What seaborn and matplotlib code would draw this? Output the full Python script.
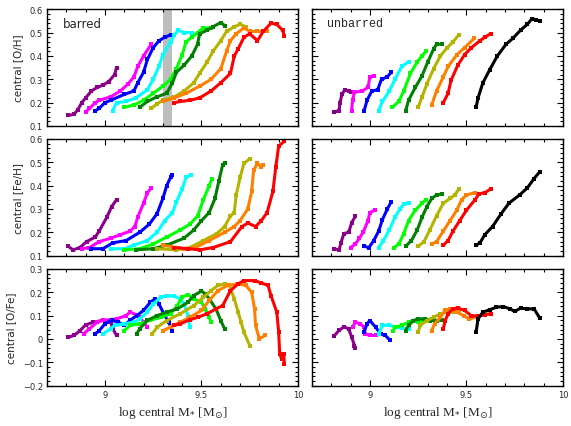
import numpy as np
import pandas as pd
import matplotlib
matplotlib.use("Agg")
import matplotlib.pyplot as plt
import seaborn as sns
from matplotlib.ticker import MultipleLocator, FuncFormatter

# =========================
# DATA
# =========================
colors_bar = ["#8b008b", "#ff00ff", "#0000ff", "#00ffff", "#00ff00",
              "#008000", "#b4b400", "#ff8000", "#ff0000"]
colors_unbar = colors_bar + ["#000000"]

# barred, central [O/H]
bar_oh_x = [
    [8.81, 8.84, 8.86, 8.88, 8.90, 8.93, 8.96, 8.99, 9.02, 9.05, 9.06],
    [8.90, 8.92, 8.95, 8.97, 9.03, 9.08, 9.12, 9.15, 9.17, 9.20, 9.24],
    [8.95, 8.97, 9.00, 9.03, 9.10, 9.15, 9.17, 9.20, 9.22, 9.25, 9.28, 9.31, 9.34],
    [9.04, 9.06, 9.11, 9.16, 9.22, 9.25, 9.28, 9.30, 9.34, 9.36, 9.38, 9.41, 9.45],
    [9.10, 9.15, 9.20, 9.25, 9.30, 9.34, 9.37, 9.40, 9.42, 9.45, 9.48, 9.51, 9.55],
    [9.18, 9.22, 9.27, 9.32, 9.35, 9.37, 9.41, 9.45, 9.48, 9.49, 9.53, 9.56, 9.60, 9.62],
    [9.24, 9.27, 9.30, 9.36, 9.41, 9.46, 9.49, 9.53, 9.56, 9.60, 9.63, 9.67, 9.70, 9.73],
    [9.30, 9.36, 9.42, 9.49, 9.55, 9.60, 9.63, 9.65, 9.68, 9.72, 9.75, 9.79, 9.84],
    [9.36, 9.39, 9.44, 9.49, 9.55, 9.60, 9.65, 9.67, 9.69, 9.72, 9.75, 9.79, 9.82,
     9.86, 9.89, 9.92, 9.93],
]
bar_oh_y = [
    [0.145, 0.15, 0.17, 0.20, 0.22, 0.25, 0.265, 0.275, 0.29, 0.32, 0.35],
    [0.16, 0.175, 0.20, 0.21, 0.225, 0.25, 0.28, 0.31, 0.355, 0.40, 0.45],
    [0.165, 0.175, 0.20, 0.21, 0.235, 0.25, 0.285, 0.33, 0.385, 0.435, 0.465, 0.48, 0.49],
    [0.165, 0.20, 0.205, 0.22, 0.255, 0.30, 0.355, 0.405, 0.46, 0.49, 0.51, 0.50, 0.50],
    [0.18, 0.19, 0.21, 0.24, 0.27, 0.30, 0.345, 0.405, 0.46, 0.48, 0.50, 0.52, 0.52],
    [0.18, 0.205, 0.225, 0.24, 0.285, 0.33, 0.36, 0.40, 0.45, 0.495, 0.51, 0.525, 0.543, 0.53],
    [0.175, 0.195, 0.21, 0.225, 0.25, 0.285, 0.325, 0.375, 0.42, 0.465, 0.505, 0.525, 0.535, 0.525],
    [0.205, 0.22, 0.24, 0.27, 0.30, 0.345, 0.42, 0.465, 0.495, 0.52, 0.505, 0.505, 0.505],
    [0.20, 0.205, 0.21, 0.22, 0.25, 0.285, 0.325, 0.40, 0.43, 0.48, 0.495, 0.465, 0.505,
     0.54, 0.535, 0.51, 0.485],
]

# unbarred, central [O/H]
unbar_oh_x = [
    [8.815, 8.84, 8.845, 8.855, 8.87, 8.89, 8.90],
    [8.905, 8.91, 8.92, 8.96, 8.99, 9.00, 9.02],
    [8.97, 8.985, 9.01, 9.04, 9.06, 9.09, 9.11],
    [9.045, 9.065, 9.10, 9.13, 9.165, 9.20],
    [9.115, 9.15, 9.175, 9.21, 9.245, 9.27, 9.29],
    [9.185, 9.20, 9.235, 9.27, 9.30, 9.33, 9.345, 9.375],
    [9.25, 9.27, 9.295, 9.33, 9.365, 9.40, 9.43, 9.46],
    [9.32, 9.345, 9.38, 9.405, 9.45, 9.49, 9.54],
    [9.38, 9.405, 9.42, 9.455, 9.49, 9.525, 9.57, 9.595, 9.625],
    [9.55, 9.56, 9.585, 9.62, 9.66, 9.705, 9.74, 9.78, 9.815, 9.84, 9.86, 9.88],
]
unbar_oh_y = [
    [0.16, 0.165, 0.20, 0.235, 0.255, 0.25, 0.245],
    [0.165, 0.21, 0.245, 0.25, 0.265, 0.31, 0.315],
    [0.165, 0.21, 0.25, 0.255, 0.30, 0.31, 0.33],
    [0.165, 0.205, 0.25, 0.30, 0.355, 0.375],
    [0.18, 0.205, 0.25, 0.325, 0.375, 0.40, 0.42],
    [0.165, 0.21, 0.265, 0.315, 0.375, 0.43, 0.45, 0.45],
    [0.18, 0.225, 0.28, 0.345, 0.40, 0.435, 0.46, 0.49],
    [0.19, 0.25, 0.31, 0.355, 0.405, 0.435, 0.475],
    [0.20, 0.24, 0.295, 0.36, 0.405, 0.435, 0.465, 0.48, 0.495],
    [0.18, 0.22, 0.285, 0.34, 0.40, 0.45, 0.475, 0.51, 0.535, 0.56, 0.555, 0.55],
]

# barred, central [Fe/H]
bar_feh_x = [
    [8.81, 8.835, 8.87, 8.905, 8.95, 8.97, 9.01, 9.035, 9.06],
    [8.88, 8.92, 8.97, 9.03, 9.08, 9.13, 9.155, 9.17, 9.20, 9.22, 9.24],
    [8.93, 8.99, 9.04, 9.11, 9.18, 9.23, 9.27, 9.30, 9.32, 9.34, 9.35],
    [9.03, 9.10, 9.15, 9.22, 9.27, 9.31, 9.35, 9.37, 9.40, 9.42, 9.445],
    [9.10, 9.18, 9.25, 9.32, 9.39, 9.44, 9.48, 9.51, 9.54, 9.555],
    [9.16, 9.25, 9.32, 9.41, 9.46, 9.50, 9.54, 9.57, 9.59, 9.61, 9.62],
    [9.27, 9.37, 9.44, 9.51, 9.58, 9.62, 9.65, 9.67, 9.68, 9.70, 9.72, 9.75],
    [9.30, 9.41, 9.47, 9.54, 9.62, 9.67, 9.70, 9.74, 9.76, 9.77, 9.79, 9.81, 9.82],
    [9.36, 9.43, 9.49, 9.56, 9.65, 9.71, 9.74, 9.78, 9.81, 9.84, 9.87, 9.885, 9.90, 9.93],
]
bar_feh_y = [
    [0.14, 0.125, 0.135, 0.16, 0.18, 0.205, 0.265, 0.31, 0.34],
    [0.13, 0.135, 0.16, 0.175, 0.19, 0.205, 0.225, 0.265, 0.325, 0.37, 0.39],
    [0.13, 0.13, 0.155, 0.165, 0.20, 0.235, 0.28, 0.345, 0.40, 0.435, 0.445],
    [0.13, 0.13, 0.145, 0.165, 0.20, 0.25, 0.285, 0.33, 0.385, 0.435, 0.445],
    [0.125, 0.13, 0.15, 0.18, 0.21, 0.235, 0.27, 0.34, 0.40, 0.43],
    [0.125, 0.13, 0.145, 0.175, 0.21, 0.25, 0.285, 0.345, 0.42, 0.49, 0.495],
    [0.13, 0.125, 0.135, 0.165, 0.195, 0.225, 0.27, 0.285, 0.36, 0.435, 0.495, 0.515],
    [0.145, 0.13, 0.135, 0.165, 0.20, 0.225, 0.25, 0.30, 0.375, 0.465, 0.495, 0.48, 0.49],
    [0.135, 0.13, 0.125, 0.135, 0.16, 0.225, 0.24, 0.225, 0.25, 0.285, 0.375, 0.48, 0.57, 0.59],
]

# unbarred, central [Fe/H]
unbar_feh_x = [
    [8.815, 8.84, 8.85, 8.865, 8.89, 8.905, 8.925],
    [8.90, 8.925, 8.945, 8.965, 8.99, 9.00, 9.025],
    [8.97, 8.995, 9.02, 9.045, 9.065, 9.09, 9.11],
    [9.045, 9.07, 9.10, 9.13, 9.155, 9.175, 9.20],
    [9.125, 9.15, 9.175, 9.20, 9.235, 9.27, 9.29],
    [9.185, 9.215, 9.245, 9.27, 9.295, 9.32, 9.345, 9.375],
    [9.25, 9.28, 9.31, 9.345, 9.38, 9.415, 9.44, 9.46],
    [9.32, 9.345, 9.38, 9.415, 9.45, 9.475, 9.50, 9.545],
    [9.38, 9.405, 9.43, 9.465, 9.50, 9.545, 9.565, 9.595, 9.625],
    [9.55, 9.57, 9.595, 9.635, 9.68, 9.72, 9.775, 9.815, 9.85, 9.88],
]
unbar_feh_y = [
    [0.13, 0.125, 0.155, 0.195, 0.20, 0.24, 0.27],
    [0.135, 0.15, 0.175, 0.20, 0.25, 0.285, 0.295],
    [0.14, 0.135, 0.165, 0.205, 0.255, 0.30, 0.33],
    [0.135, 0.165, 0.21, 0.265, 0.30, 0.32, 0.325],
    [0.135, 0.15, 0.195, 0.25, 0.295, 0.325, 0.34],
    [0.14, 0.165, 0.21, 0.265, 0.31, 0.345, 0.36, 0.365],
    [0.14, 0.16, 0.21, 0.27, 0.325, 0.345, 0.36, 0.385],
    [0.15, 0.16, 0.205, 0.25, 0.295, 0.34, 0.36, 0.37],
    [0.145, 0.165, 0.205, 0.25, 0.295, 0.34, 0.365, 0.37, 0.385],
    [0.145, 0.155, 0.19, 0.225, 0.28, 0.325, 0.36, 0.39, 0.43, 0.46],
]

# barred, central [O/Fe]
bar_ofe_x = [
    [8.81, 8.84, 8.87, 8.90, 8.94, 8.99, 9.03, 9.04, 9.06],
    [8.89, 8.92, 8.96, 8.99, 9.06, 9.11, 9.13, 9.165, 9.18, 9.20, 9.22],
    [8.95, 8.97, 9.00, 9.035, 9.07, 9.10, 9.13, 9.165, 9.20, 9.235, 9.26, 9.28, 9.305, 9.33, 9.35],
    [8.99, 9.03, 9.05, 9.10, 9.15, 9.18, 9.22, 9.25, 9.29, 9.32, 9.36, 9.39, 9.41, 9.43, 9.44],
    [9.10, 9.13, 9.18, 9.235, 9.29, 9.34, 9.375, 9.40, 9.43, 9.46, 9.50, 9.52, 9.54, 9.55],
    [9.165, 9.18, 9.22, 9.27, 9.32, 9.375, 9.43, 9.46, 9.50, 9.52, 9.54, 9.575, 9.60, 9.62],
    [9.245, 9.27, 9.32, 9.39, 9.46, 9.51, 9.55, 9.585, 9.62, 9.645, 9.67, 9.69, 9.705, 9.72, 9.75],
    [9.30, 9.34, 9.39, 9.44, 9.50, 9.54, 9.585, 9.635, 9.69, 9.73, 9.76, 9.775, 9.78, 9.80, 9.83],
    [9.36, 9.39, 9.44, 9.48, 9.53, 9.575, 9.61, 9.65, 9.69, 9.72, 9.775, 9.81, 9.845, 9.86,
     9.89, 9.90, 9.905, 9.915, 9.925, 9.93],
]
bar_ofe_y = [
    [0.008, 0.015, 0.035, 0.06, 0.072, 0.08, 0.072, 0.045, 0.015],
    [0.022, 0.044, 0.072, 0.08, 0.086, 0.10, 0.115, 0.103, 0.093, 0.072, 0.05],
    [0.022, 0.035, 0.065, 0.08, 0.072, 0.058, 0.08, 0.10, 0.122, 0.157, 0.172, 0.15, 0.108, 0.072, 0.036],
    [0.022, 0.044, 0.058, 0.065, 0.072, 0.086, 0.115, 0.15, 0.179, 0.186, 0.183, 0.172, 0.15, 0.10, 0.05],
    [0.036, 0.058, 0.065, 0.08, 0.093, 0.108, 0.143, 0.179, 0.19, 0.172, 0.157, 0.129, 0.093, 0.072],
    [0.022, 0.044, 0.08, 0.10, 0.115, 0.129, 0.157, 0.186, 0.205, 0.193, 0.172, 0.129, 0.079, 0.043],
    [0.022, 0.05, 0.079, 0.108, 0.143, 0.179, 0.207, 0.229, 0.236, 0.229, 0.172, 0.115, 0.072, 0.029, -0.028],
    [0.036, 0.05, 0.072, 0.093, 0.122, 0.165, 0.207, 0.229, 0.236, 0.229, 0.20, 0.129, 0.058, 0.001, 0.015],
    [0.058, 0.065, 0.082, 0.093, 0.108, 0.129, 0.143, 0.207, 0.236, 0.25, 0.25, 0.24, 0.229, 0.186,
     0.115, 0.029, -0.063, -0.085, -0.063, -0.106],
]

# unbarred, central [O/Fe]
unbar_ofe_x = [
    [8.815, 8.84, 8.865, 8.89, 8.905, 8.92, 8.925],
    [8.91, 8.925, 8.95, 8.97, 8.975, 9.00, 9.03],
    [8.97, 8.985, 9.00, 9.03, 9.055, 9.08, 9.105],
    [9.045, 9.065, 9.10, 9.13, 9.165, 9.20],
    [9.12, 9.13, 9.165, 9.20, 9.225, 9.25, 9.285],
    [9.185, 9.20, 9.225, 9.25, 9.285, 9.31, 9.345, 9.375],
    [9.25, 9.26, 9.295, 9.33, 9.365, 9.40, 9.43, 9.46],
    [9.32, 9.335, 9.365, 9.39, 9.415, 9.45, 9.485, 9.515, 9.55],
    [9.38, 9.39, 9.405, 9.43, 9.455, 9.49, 9.525, 9.56, 9.595, 9.625],
    [9.55, 9.56, 9.585, 9.62, 9.655, 9.69, 9.725, 9.75, 9.78, 9.815, 9.85, 9.88],
]
unbar_ofe_y = [
    [0.013, 0.037, 0.051, 0.044, 0.009, -0.028, -0.039],
    [0.051, 0.072, 0.065, 0.05, 0.022, 0.015, 0.015],
    [0.03, 0.065, 0.079, 0.05, 0.022, 0.015, -0.006],
    [0.022, 0.058, 0.06, 0.05, 0.046, 0.043],
    [0.036, 0.05, 0.058, 0.072, 0.079, 0.072, 0.083],
    [0.036, 0.058, 0.079, 0.086, 0.086, 0.079, 0.079, 0.082],
    [0.03, 0.058, 0.079, 0.093, 0.108, 0.115, 0.115, 0.115],
    [0.036, 0.065, 0.093, 0.122, 0.129, 0.115, 0.10, 0.086, 0.093],
    [0.044, 0.079, 0.108, 0.129, 0.133, 0.122, 0.10, 0.098, 0.104, 0.108],
    [0.03, 0.086, 0.115, 0.125, 0.136, 0.139, 0.129, 0.118, 0.132, 0.129, 0.129, 0.089],
]

bar_band = (9.30, 9.35)

# =========================
# STYLE
# =========================
sns.set_theme(style="ticks")
plt.rcParams["font.family"] = ["DejaVu Sans"]
plt.rcParams["xtick.direction"] = "in"
plt.rcParams["ytick.direction"] = "in"

fig = plt.figure(figsize=(5.71, 4.27), dpi=100)
lefts = [0.0823, 0.5464]
bottoms = [0.7026, 0.3988, 0.0944]
w, h = 0.4396, 0.2735

panels = [
    (bar_oh_x, bar_oh_y, unbar_oh_x, unbar_oh_y, (0.1, 0.6), "central [O/H]"),
    (bar_feh_x, bar_feh_y, unbar_feh_x, unbar_feh_y, (0.1, 0.6), "central [Fe/H]"),
    (bar_ofe_x, bar_ofe_y, unbar_ofe_x, unbar_ofe_y, (-0.2, 0.3), "central [O/Fe]"),
]


def fmt_y(v, pos):
    if abs(v) < 1e-9:
        return "0"
    return f"{v:.1f}".replace("-", "\u2212")


def fmt_x(v, pos):
    return f"{v:g}"


def draw(ax, xs, ys, cols):
    for x, y, c in zip(xs, ys, cols):
        df = pd.DataFrame({"x": x, "y": y})
        sns.lineplot(data=df, x="x", y="y", sort=False, color=c, ax=ax,
                     linewidth=2.2, marker="s", markersize=2.8,
                     markeredgewidth=0, estimator=None, legend=False)


for row, (bx, by, ux, uy, ylim, ylab) in enumerate(panels):
    for col in range(2):
        ax = fig.add_axes([lefts[col], bottoms[row], w, h])
        if col == 0:
            if row == 0:
                ax.axvspan(*bar_band, color="#bdbdbd", lw=0, zorder=0)
            draw(ax, bx, by, colors_bar)
        else:
            draw(ax, ux, uy, colors_unbar)
        ax.set_xlim(8.7, 10.0)
        ax.set_ylim(*ylim)
        ax.xaxis.set_major_locator(MultipleLocator(0.5))
        ax.xaxis.set_minor_locator(MultipleLocator(0.1))
        ax.yaxis.set_major_locator(MultipleLocator(0.1))
        ax.yaxis.set_minor_locator(MultipleLocator(0.02))
        ax.tick_params(which="both", top=True, right=True, labelsize=6,
                       width=0.8, color="black", pad=3)
        ax.tick_params(which="major", length=4)
        ax.tick_params(which="minor", length=2)
        for s in ax.spines.values():
            s.set_linewidth(1.0)
            s.set_color("black")
        ax.yaxis.set_major_formatter(FuncFormatter(fmt_y))
        ax.xaxis.set_major_formatter(FuncFormatter(fmt_x))
        ax.set_xlabel("")
        ax.set_ylabel("")
        if col == 0:
            ax.set_ylabel(ylab, fontsize=7.5, labelpad=5)
        else:
            ax.tick_params(labelleft=False)
        if row < 2:
            ax.tick_params(labelbottom=False)
        else:
            ax.set_xlabel(r"log central M$_{*}$ [M$_{\odot}$]", fontsize=9.5,
                          family="Liberation Serif", labelpad=4)
        if row == 0:
            if col == 0:
                ax.text(0.064, 0.88, "barred", transform=ax.transAxes,
                        fontsize=8.5, va="center", ha="left")
            else:
                ax.text(0.058, 0.88, "unbarred", transform=ax.transAxes,
                        fontsize=8.5, va="center", ha="left",
                        family="Liberation Mono")

fig.savefig("out.png", dpi=100)
